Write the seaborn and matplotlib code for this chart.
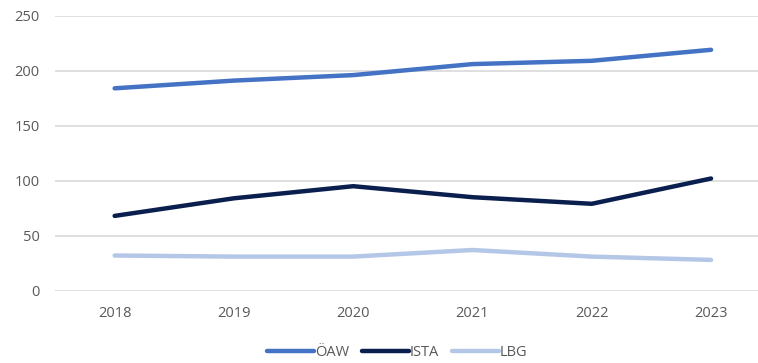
import matplotlib
matplotlib.use("Agg")
import matplotlib.pyplot as plt
import seaborn as sns
import pandas as pd

# Yearly values per institution
years = ["2018", "2019", "2020", "2021", "2022", "2023"]
oeaw = [184, 191, 196, 206, 209, 219]
ista = [68, 84, 95, 85, 79, 102]
lbg = [32, 31, 31, 37, 31, 28]
series_names = ["ÖAW", "ISTA", "LBG"]
colors = ["#4472C4", "#0B1F4F", "#B4C7E7"]
y_ticks = [0, 50, 100, 150, 200, 250]

df = pd.DataFrame({
    "Jahr": years * 3,
    "Wert": oeaw + ista + lbg,
    "Institution": [s for s in series_names for _ in years],
})

sns.set_theme(style="white")
plt.rcParams["font.family"] = ["Open Sans", "DejaVu Sans"]

fig = plt.figure(figsize=(7.58, 3.63), dpi=100)
ax = fig.add_axes([55 / 758, 72.3 / 363, 715.7 / 758, 275 / 363])

sns.lineplot(data=df, x="Jahr", y="Wert", hue="Institution",
             palette=dict(zip(series_names, colors)), linewidth=3.2,
             sort=False, ax=ax, legend=False)
for line in ax.lines:
    line.set_solid_capstyle("round")
    line.set_solid_joinstyle("round")

ax.set_xlim(-0.5, len(years) - 0.5)
ax.set_ylim(0, 250)
ax.set_yticks(y_ticks)
ax.grid(axis="y", color="#D9D9D9", linewidth=1.2)
ax.grid(axis="x", visible=False)
ax.set_axisbelow(True)
for s in ax.spines.values():
    s.set_visible(False)
ax.set_xlabel("")
ax.set_ylabel("")
ax.tick_params(axis="both", length=0, labelsize=10.5, labelcolor="#595959")
ax.tick_params(axis="y", pad=11)
ax.tick_params(axis="x", pad=11)

handles = [plt.Line2D([], [], color=c, linewidth=3.2, solid_capstyle="round")
           for c in colors]
fig.legend(handles, series_names, loc="center", ncol=3, frameon=False,
           bbox_to_anchor=(0.524, 0.030), fontsize=10.5, handlelength=3.2,
           handletextpad=0.05, columnspacing=0.9, labelcolor="#595959")

fig.savefig("out.png", dpi=100)
